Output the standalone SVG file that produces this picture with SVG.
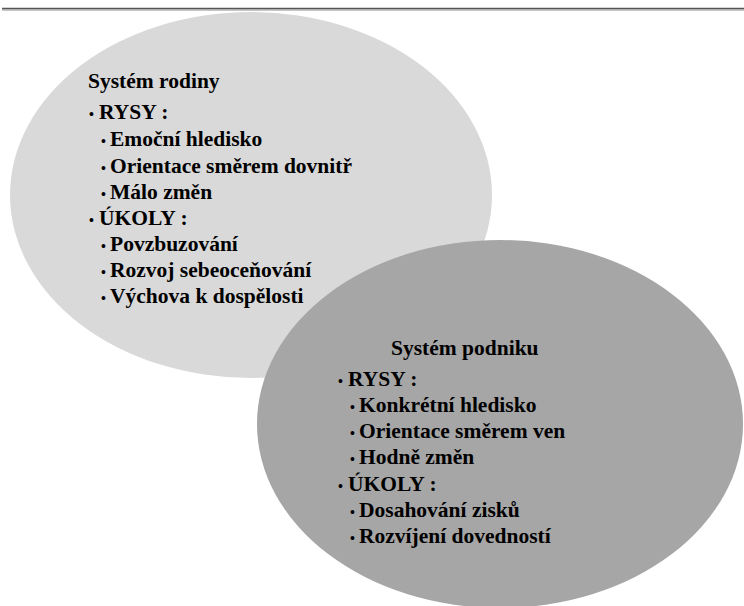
<svg xmlns="http://www.w3.org/2000/svg" width="744" height="606" viewBox="0 0 744 606">
  <style>
    .t { font-family: "Liberation Serif", "Times New Roman", serif; font-weight: bold; font-size: 21.5px; fill: #000; }
    .b { font-family: "Liberation Serif", "Times New Roman", serif; font-weight: bold; font-size: 14px; fill: #000; }
  </style>
  <rect x="0" y="0" width="744" height="606" fill="#ffffff"/>
  <g id="top-rule">
    <line x1="2" y1="8.6" x2="744" y2="8.6" stroke="#555555" stroke-width="1.6"/>
    <line x1="2" y1="10.2" x2="744" y2="10.2" stroke="#b4b4b4" stroke-width="1.2"/>
  </g>
  <g id="connectors"></g>
  <g id="node-rodina">
    <ellipse cx="251" cy="195" rx="241" ry="183" fill="#d9d9d9"/>
    <text class="t" x="88" y="88">Systém rodiny</text>
    <text class="b" x="89" y="119">•</text><text class="t" x="99" y="119">RYSY :</text>
    <text class="b" x="101" y="146">•</text><text class="t" x="110" y="146">Emoční hledisko</text>
    <text class="b" x="101" y="173">•</text><text class="t" x="110" y="173">Orientace směrem dovnitř</text>
    <text class="b" x="101" y="199">•</text><text class="t" x="110" y="199">Málo změn</text>
    <text class="b" x="89" y="225">•</text><text class="t" x="99" y="225">ÚKOLY :</text>
    <text class="b" x="101" y="251">•</text><text class="t" x="110" y="251">Povzbuzování</text>
    <text class="b" x="101" y="277">•</text><text class="t" x="110" y="277">Rozvoj sebeoceňování</text>
    <text class="b" x="101" y="303">•</text><text class="t" x="110" y="303">Výchova k dospělosti</text>
  </g>
  <g id="node-podnik">
    <ellipse cx="500" cy="424" rx="243" ry="184" fill="#a6a6a6"/>
    <text class="t" x="391" y="355">Systém podniku</text>
    <text class="b" x="338" y="386">•</text><text class="t" x="348" y="386">RYSY :</text>
    <text class="b" x="350" y="412">•</text><text class="t" x="359" y="412">Konkrétní hledisko</text>
    <text class="b" x="350" y="438">•</text><text class="t" x="359" y="438">Orientace směrem ven</text>
    <text class="b" x="350" y="464">•</text><text class="t" x="359" y="464">Hodně změn</text>
    <text class="b" x="338" y="491">•</text><text class="t" x="348" y="491">ÚKOLY :</text>
    <text class="b" x="350" y="517">•</text><text class="t" x="359" y="517">Dosahování zisků</text>
    <text class="b" x="350" y="543">•</text><text class="t" x="359" y="543">Rozvíjení dovedností</text>
  </g>
</svg>
